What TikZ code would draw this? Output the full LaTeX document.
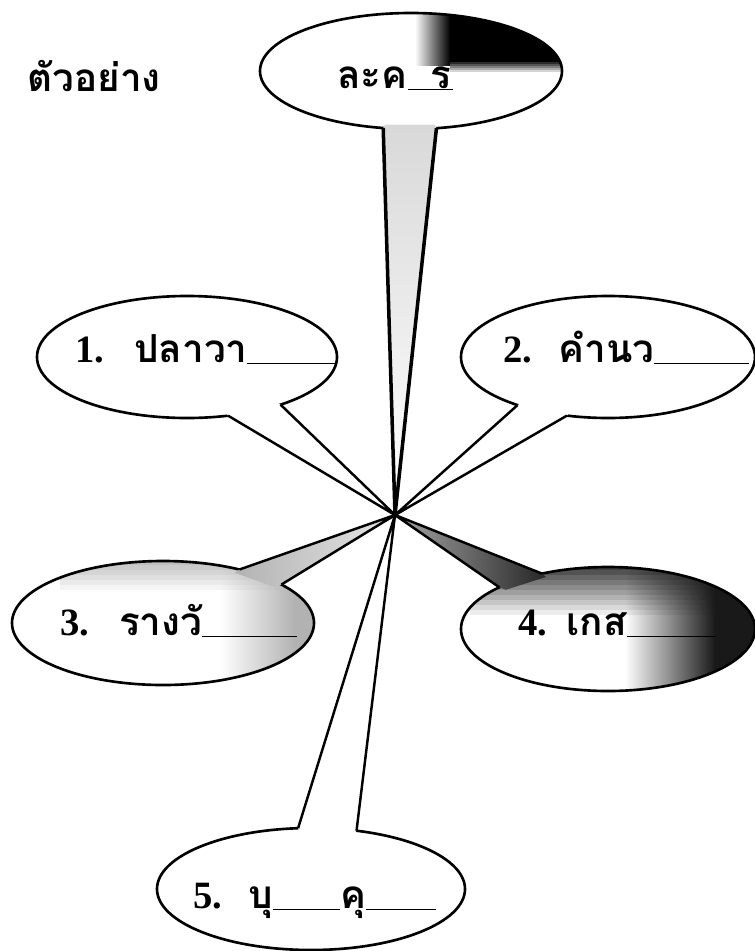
\documentclass[tikz,border=0pt]{standalone}
\usepackage{fontspec}
\setmainfont{Liberation Serif}
\newfontfamily\thaifont[Script=Thai]{Loma}
\usetikzlibrary{shapes.geometric,calc,fadings,backgrounds}
\tikzset{bubble/.style={ellipse,draw,line width=1.5pt,inner sep=0pt,outer sep=0pt},
         tail/.style={line width=1.4pt,line join=miter},
         word/.style={anchor=base west,inner sep=0pt,font=\bfseries\fontsize{22}{26}\selectfont}}
\newcommand{\blank}[1]{\rule[-1pt]{#1}{0.6pt}}

\begin{document}
\begin{tikzpicture}[x=0.2mm,y=-0.2mm]
\useasboundingbox (0,0) rectangle (755,951);
% bubbles
\node[bubble,minimum width=60.4mm,minimum height=23.2mm] (b0) at (411,71) {};
\node[bubble,minimum width=60mm,minimum height=24.4mm] (b1) at (187,357) {};
\node[bubble,minimum width=58.8mm,minimum height=24.4mm] (b2) at (608,357) {};
\node[bubble,minimum width=60.4mm,minimum height=24.8mm] (b3) at (163,623) {};
\node[bubble,minimum width=58.8mm,minimum height=24.8mm] (b4) at (608,629) {};
\node[bubble,minimum width=61.6mm,minimum height=24.4mm] (b5) at (311,889) {};
\coordinate (hub) at (395,515);

% shading of the scan
\begin{scope}[on background layer]
  \begin{scope}
    \clip (411,71) ellipse [x radius=151,y radius=58];
    \foreach \k [evaluate=\k as \op using 1-\k/6] in {0,...,5}
      \fill[black,opacity=\op] (450,60+2*\k) rectangle (570,62+2*\k);
    \fill[black,path fading=west] (415,0) rectangle (450,66);
    \fill[black] (450,0) rectangle (570,60);
  \end{scope}
  \begin{scope}
    \clip (608,629) ellipse [x radius=147,y radius=62];
    \foreach \k [evaluate=\k as \op using 0.75*(1-\k/10)] in {0,...,9}
      \fill[black,opacity=\op] (470,565+5*\k) rectangle (760,570+5*\k);
    \fill[black!90,path fading=west] (625,560) rectangle (715,700);
    \fill[black!90] (715,560) rectangle (760,700);
  \end{scope}
  \begin{scope}
    \clip (163,623) ellipse [x radius=151,y radius=62];
    \foreach \k [evaluate=\k as \op using 0.25*(1-\k/6)] in {0,...,5}
      \fill[black,opacity=\op] (60,560+5*\k) rectangle (320,565+5*\k);
    \fill[black!30,path fading=west] (220,560) rectangle (295,690);
    \fill[black!30] (295,560) rectangle (320,690);
  \end{scope}
\end{scope}

% tails
\shade[top color=black!15,bottom color=white] (b0.-116.9) -- (hub) -- (b0.-66.7) -- ($(b0.-66.7)!.06!(b0.center)$) -- ($(b0.-116.9)!.06!(b0.center)$) -- cycle;
\fill[white] (b1.-55.7) -- (hub) -- (b1.-27.3) -- ($(b1.-27.3)!.06!(b1.center)$) -- ($(b1.-55.7)!.06!(b1.center)$) -- cycle;
\fill[white] (b2.-152.2) -- (hub) -- (b2.-125.3) -- ($(b2.-125.3)!.06!(b2.center)$) -- ($(b2.-152.2)!.06!(b2.center)$) -- cycle;
\shade[left color=black!30,right color=black!10] (b3.35.7) -- (hub) -- (b3.18.9) -- ($(b3.18.9)!.06!(b3.center)$) -- ($(b3.35.7)!.06!(b3.center)$) -- cycle;
\shade[left color=black!35,right color=black!85] (b4.159.9) -- (hub) -- (b4.140) -- ($(b4.140)!.06!(b4.center)$) -- ($(b4.159.9)!.06!(b4.center)$) -- cycle;
\fill[white] (b5.102.4) -- (hub) -- (b5.52.3) -- ($(b5.52.3)!.06!(b5.center)$) -- ($(b5.102.4)!.06!(b5.center)$) -- cycle;

\draw[tail,line width=2pt] (b0.-116.9) -- (hub) -- (b0.-66.7);
\draw[tail] (b1.-55.7) -- (hub) -- (b1.-27.3);
\draw[tail] (b2.-152.2) -- (hub) -- (b2.-125.3);
\draw[tail] (b3.35.7) -- (hub) -- (b3.18.9);
\draw[tail] (b4.159.9) -- (hub) -- (b4.140);
\draw[tail] (b5.102.4) -- (hub) -- (b5.52.3);

% texts
\node[word] (title) at (27,92) {\thaifont ตัวอย่าง};
\node[word] (t0) at (337,88) {\thaifont ละค\rlap{\blank{25.6pt}}\hspace{13pt}ร};
\node[word] (t1) at (75,362) {1.\hspace{17pt}\thaifont ปลาวา\blank{51pt}};
\node[word] (t2) at (503,362) {2.\hspace{15pt}\thaifont คำนว\blank{54pt}};
\node[word] (t3) at (60,635) {3.\hspace{17pt}\thaifont รางวั\blank{54pt}};
\node[word] (t4) at (518,635) {4.\hspace{11pt}\thaifont เกส\blank{50pt}};
\node[word] (t5) at (193,908) {5.\hspace{15pt}\thaifont บุ\blank{38pt}คุ\blank{40pt}};
\end{tikzpicture}
\end{document}
